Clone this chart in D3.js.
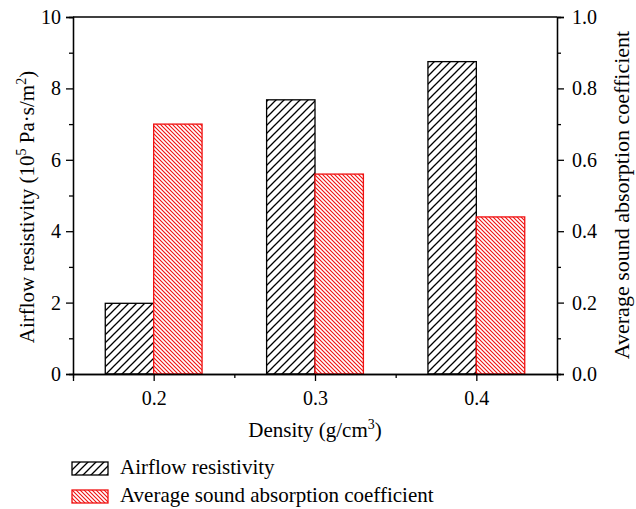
<!DOCTYPE html>
<html lang="en">
  <head>
    <meta charset="UTF-8" />
    <title>Airflow resistivity and sound absorption</title>
    <style>
      body {
        margin: 0;
        background: #ffffff;
      }
      svg text {
        font-family: "Liberation Serif", "DejaVu Serif", serif;
        fill: #000;
      }
    </style>
  </head>
  <body>
    <div id="chart"></div>

    <script src="https://d3js.org/d3.v7.min.js"></script>
    <script>
      // data
      const densities = [0.2, 0.3, 0.4];
      const airflow = [1.98, 7.68, 8.75]; // 10^5 Pa.s/m2
      const absorption = [0.7, 0.56, 0.44];
      const xTicks = [0.2, 0.3, 0.4];
      const leftTicks = [0, 2, 4, 6, 8, 10];
      const rightTicks = [0, 0.2, 0.4, 0.6, 0.8, 1.0];

      const width = 636;
      const height = 509;
      const margin = { top: 17, right: 79, bottom: 135, left: 73 };
      const fs = 20;

      const svg = d3
        .select("#chart")
        .append("svg")
        .attr("width", width)
        .attr("height", height);

      // hatch patterns
      const defs = svg.append("defs");
      const hatchBlack = defs
        .append("pattern")
        .attr("id", "hatchBlack")
        .attr("patternUnits", "userSpaceOnUse")
        .attr("width", 8)
        .attr("height", 8);
      hatchBlack.append("rect").attr("width", 8).attr("height", 8).attr("fill", "#fff");
      hatchBlack
        .append("path")
        .attr("d", "M-2,2 L2,-2 M0,8 L8,0 M6,10 L10,6")
        .attr("stroke", "#000")
        .attr("stroke-width", 1.3);

      const hatchRed = defs
        .append("pattern")
        .attr("id", "hatchRed")
        .attr("patternUnits", "userSpaceOnUse")
        .attr("width", 4)
        .attr("height", 4);
      hatchRed.append("rect").attr("width", 4).attr("height", 4).attr("fill", "#fff");
      hatchRed
        .append("path")
        .attr("d", "M-1,-1 L5,5 M-1,3 L1,5 M3,-1 L5,1")
        .attr("stroke", "#f01010")
        .attr("stroke-width", 1.1);

      const x0 = margin.left;
      const x1 = width - margin.right;
      const y0 = height - margin.bottom;
      const y1 = margin.top;

      const x = d3.scaleLinear().domain([0.15, 0.45]).range([x0, x1]);
      const yL = d3.scaleLinear().domain([0, 10]).range([y0, y1]);
      const yR = d3.scaleLinear().domain([0, 1]).range([y0, y1]);
      const barW = 0.03;

      // bars
      svg
        .selectAll("rect.airflow")
        .data(densities)
        .enter()
        .append("rect")
        .attr("class", "airflow")
        .attr("x", (d) => x(d - barW))
        .attr("width", (d) => x(d) - x(d - barW))
        .attr("y", (d, i) => yL(airflow[i]))
        .attr("height", (d, i) => y0 - yL(airflow[i]))
        .attr("fill", "url(#hatchBlack)")
        .attr("stroke", "#000")
        .attr("stroke-width", 1.3);

      svg
        .selectAll("rect.absorb")
        .data(densities)
        .enter()
        .append("rect")
        .attr("class", "absorb")
        .attr("x", (d) => x(d))
        .attr("width", (d) => x(d + barW) - x(d))
        .attr("y", (d, i) => yR(absorption[i]))
        .attr("height", (d, i) => y0 - yR(absorption[i]))
        .attr("fill", "url(#hatchRed)")
        .attr("stroke", "#f01010")
        .attr("stroke-width", 1.3);

      // axes
      const fmt1 = d3.format(".1f");

      svg
        .append("g")
        .attr("transform", `translate(0,${y0})`)
        .call(d3.axisBottom(x).tickValues(xTicks).tickSize(7).tickPadding(10).tickFormat(fmt1));
      svg
        .append("g")
        .attr("transform", `translate(0,${y0})`)
        .call(d3.axisBottom(x).tickValues([0.25, 0.35]).tickSize(4).tickFormat(""));

      svg
        .append("g")
        .attr("transform", `translate(${x0},0)`)
        .call(d3.axisLeft(yL).tickValues(leftTicks).tickSize(7).tickPadding(5));
      svg
        .append("g")
        .attr("transform", `translate(${x0},0)`)
        .call(d3.axisLeft(yL).tickValues([1, 3, 5, 7, 9]).tickSize(4).tickFormat(""));

      svg
        .append("g")
        .attr("transform", `translate(${x1},0)`)
        .call(d3.axisRight(yR).tickValues(rightTicks).tickSize(7).tickPadding(8).tickFormat(fmt1));
      svg
        .append("g")
        .attr("transform", `translate(${x1},0)`)
        .call(d3.axisRight(yR).tickValues([0.1, 0.3, 0.5, 0.7, 0.9]).tickSize(4).tickFormat(""));

      // top frame line
      svg
        .append("line")
        .attr("x1", x0)
        .attr("x2", x1)
        .attr("y1", y1)
        .attr("y2", y1)
        .attr("stroke", "#000")
        .attr("stroke-width", 1.3);

      svg.selectAll(".domain").attr("stroke-width", 1.3);
      svg.selectAll(".tick line").attr("stroke-width", 1.3);
      svg.selectAll(".tick text").attr("font-size", fs).attr("font-family", "Liberation Serif");

      // axis titles
      svg
        .append("text")
        .attr("x", (x0 + x1) / 2)
        .attr("y", 437)
        .attr("text-anchor", "middle")
        .attr("font-size", 21)
        .html('Density (g/cm<tspan dy="-8" font-size="14">3</tspan><tspan dy="8">)</tspan>');

      svg
        .append("text")
        .attr("transform", "translate(34,207) rotate(-90)")
        .attr("text-anchor", "middle")
        .attr("font-size", 21)
        .html(
          'Airflow resistivity (10<tspan dy="-8" font-size="14">5</tspan><tspan dy="8"> Pa·s/m</tspan><tspan dy="-8" font-size="14">2</tspan><tspan dy="8">)</tspan>'
        );

      svg
        .append("text")
        .attr("transform", "translate(629,195) rotate(-90)")
        .attr("text-anchor", "middle")
        .attr("font-size", 22)
        .text("Average sound absorption coefficient");

      // legend
      const legendItems = [
        { label: "Airflow resistivity", fill: "url(#hatchBlack)", stroke: "#000" },
        { label: "Average sound absorption coefficient", fill: "url(#hatchRed)", stroke: "#f01010" },
      ];
      const legend = svg
        .selectAll("g.legend")
        .data(legendItems)
        .enter()
        .append("g")
        .attr("class", "legend")
        .attr("transform", (d, i) => `translate(72,${462 + i * 28})`);
      legend
        .append("rect")
        .attr("width", 36)
        .attr("height", 13)
        .attr("fill", (d) => d.fill)
        .attr("stroke", (d) => d.stroke)
        .attr("stroke-width", 1.3);
      legend
        .append("text")
        .attr("x", 48)
        .attr("y", 12)
        .attr("font-size", 21)
        .text((d) => d.label);
    </script>
  </body>
</html>
